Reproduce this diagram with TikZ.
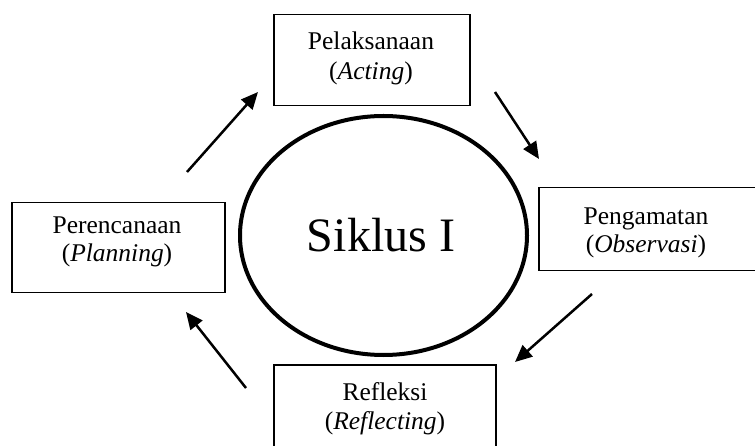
\documentclass[tikz,border=0pt]{standalone}
\usepackage{fontspec}
\setmainfont{Liberation Serif}
\usetikzlibrary{arrows.meta,shapes.geometric}
\begin{document}
\begin{tikzpicture}[x=1pt,y=-1pt,
  stagebox/.style={draw=black,line width=1.5pt,rectangle,anchor=north west,inner sep=0pt},
  lbl/.style={anchor=base,inner sep=0pt,font=\fontsize{25.5}{30}\selectfont},
  flow/.style={line width=2.5pt,-{Triangle[length=17pt,width=15pt]}}]
\useasboundingbox (0,0) rectangle (755,446);
% boxes
\node[stagebox,minimum width=196pt,minimum height=91pt] (act) at (273,14) {};
\node[stagebox,minimum width=213pt,minimum height=90pt] (plan) at (11,202) {};
\node[stagebox,minimum width=222pt,minimum height=83pt] (obs) at (538,187) {};
\node[stagebox,minimum width=222pt,minimum height=96pt] (ref) at (273,364) {};
% labels
\node[lbl] (act1) at (371,50) {Pelaksanaan};
\node[lbl] (act2) at (371,80) {(\textit{Acting})};
\node[lbl] (plan1) at (117,234) {Perencanaan};
\node[lbl] (plan2) at (117,262) {(\textit{Planning})};
\node[lbl] (obs1) at (646,225) {Pengamatan};
\node[lbl] (obs2) at (646,253) {(\textit{Observasi})};
\node[lbl] (ref1) at (385,400) {Refleksi};
\node[lbl] (ref2) at (385,429) {(\textit{Reflecting})};
% cycle
\node[draw=black,line width=4pt,ellipse,minimum width=287pt,minimum height=239pt,inner sep=0pt] (sik) at (383.5,235.5) {};
\node[anchor=base,inner sep=0pt,font=\fontsize{48}{52}\selectfont] (sikt) at (381,252) {Siklus I};
% arrows
\coordinate (a1s) at (187,172); \coordinate (a1e) at (258,92);
\coordinate (a2s) at (495,92);  \coordinate (a2e) at (539,159);
\coordinate (a3s) at (592,294); \coordinate (a3e) at (515,362);
\coordinate (a4s) at (246,388); \coordinate (a4e) at (186,312);
\draw[flow] (a1s) -- (a1e);
\draw[flow] (a2s) -- (a2e);
\draw[flow] (a3s) -- (a3e);
\draw[flow] (a4s) -- (a4e);
\end{tikzpicture}
\end{document}
